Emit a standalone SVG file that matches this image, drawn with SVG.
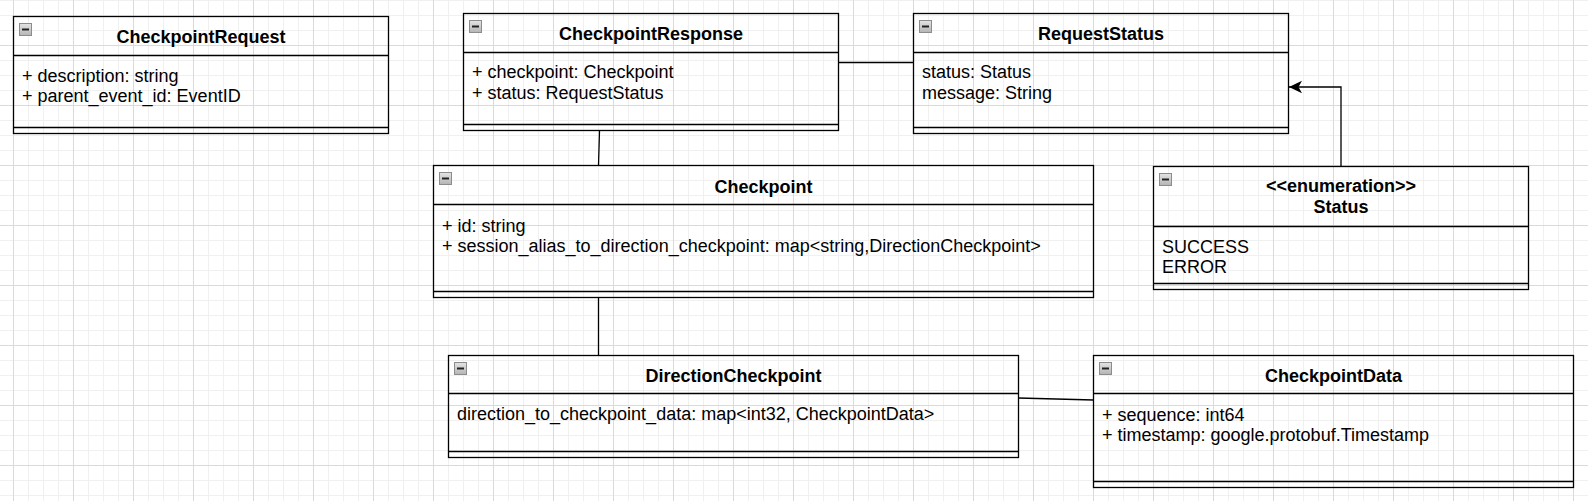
<svg xmlns="http://www.w3.org/2000/svg" xmlns:xlink="http://www.w3.org/1999/xlink" width="1588" height="501" viewBox="0 0 1588 501">
<style>
.box{fill:none;stroke:#000;stroke-width:1.3}
.sep{stroke:#000;stroke-width:1.3}
.title{font-family:"Liberation Sans",Arial,sans-serif;font-size:18px;font-weight:bold;text-anchor:middle;fill:#000}
.attr{font-family:"Liberation Sans",Arial,sans-serif;font-size:18px;fill:#000}
.conn{fill:none;stroke:#000;stroke-width:1.3}
</style>
<defs>
<pattern id="grid" patternUnits="userSpaceOnUse" x="13" y="0" width="60" height="60">
<path d="M15.5 0V60M30.5 0V60M45.5 0V60M0 0.5H60M0 15.5H60M0 30.5H60" stroke="#f0f0f0" stroke-width="1" fill="none"/>
<path d="M0.5 0V60M0 45.5H60" stroke="#dadada" stroke-width="1" fill="none"/>
</pattern>
<linearGradient id="mg" x1="0" y1="0" x2="0" y2="1">
<stop offset="0" stop-color="#e4e4e4"/>
<stop offset="1" stop-color="#b4b4b4"/>
</linearGradient>
<g id="minus">
<rect x="0.5" y="0.5" width="12" height="12" fill="url(#mg)" stroke="#8c8c8c"/>
<rect x="3" y="5.5" width="7" height="2" fill="#222"/>
</g>
<marker id="arr" markerWidth="14" markerHeight="14" refX="13" refY="7" orient="auto" markerUnits="userSpaceOnUse">
<path d="M13,7 L0,0.8 L3.5,7 L0,13.2 Z" fill="#000"/>
</marker>
</defs>
<rect width="1588" height="501" fill="#fff"/>
<rect width="1588" height="501" fill="url(#grid)"/>

<g id="connectors">
<path class="conn" d="M838.5 62.5H913.5"/>
<path class="conn" d="M599.5 130.5L598.5 165.5"/>
<path class="conn" d="M598.5 297.5V355.5"/>
<path class="conn" d="M1018.5 398L1093.5 400"/>
<path class="conn" d="M1341 166.5V87H1289" marker-end="url(#arr)"/>
</g>

<g id="CheckpointRequest">
<rect class="box" x="13.5" y="16.5" width="375" height="117"/>
<path class="sep" d="M13.5 55.5H388.5M13.5 127.5H388.5"/>
<use xlink:href="#minus" x="19" y="23"/>
<text class="title" x="201" y="42.5">CheckpointRequest</text>
<text class="attr" x="22" y="82">+ description: string</text>
<text class="attr" x="22" y="102">+ parent_event_id: EventID</text>
</g>

<g id="CheckpointResponse">
<rect class="box" x="463.5" y="13.5" width="375" height="117"/>
<path class="sep" d="M463.5 52.5H838.5M463.5 124.5H838.5"/>
<use xlink:href="#minus" x="469" y="20"/>
<text class="title" x="651" y="40">CheckpointResponse</text>
<text class="attr" x="472" y="78">+ checkpoint: Checkpoint</text>
<text class="attr" x="472" y="99">+ status: RequestStatus</text>
</g>

<g id="RequestStatus">
<rect class="box" x="913.5" y="13.5" width="375" height="120"/>
<path class="sep" d="M913.5 52.5H1288.5M913.5 127.5H1288.5"/>
<use xlink:href="#minus" x="919" y="20"/>
<text class="title" x="1101" y="40">RequestStatus</text>
<text class="attr" x="922" y="78">status: Status</text>
<text class="attr" x="922" y="99">message: String</text>
</g>

<g id="Checkpoint">
<rect class="box" x="433.5" y="165.5" width="660" height="132"/>
<path class="sep" d="M433.5 204.5H1093.5M433.5 291.5H1093.5"/>
<use xlink:href="#minus" x="439" y="172"/>
<text class="title" x="763.5" y="193">Checkpoint</text>
<text class="attr" x="442" y="232">+ id: string</text>
<text class="attr" x="442" y="252">+ session_alias_to_direction_checkpoint: map&lt;string,DirectionCheckpoint&gt;</text>
</g>

<g id="Status">
<rect class="box" x="1153.5" y="166.5" width="375" height="123"/>
<path class="sep" d="M1153.5 226.5H1528.5M1153.5 283.5H1528.5"/>
<use xlink:href="#minus" x="1159" y="173"/>
<text class="title" x="1341" y="192">&lt;&lt;enumeration&gt;&gt;</text>
<text class="title" x="1341" y="213">Status</text>
<text class="attr" x="1162" y="253">SUCCESS</text>
<text class="attr" x="1162" y="273">ERROR</text>
</g>

<g id="DirectionCheckpoint">
<rect class="box" x="448.5" y="355.5" width="570" height="102"/>
<path class="sep" d="M448.5 393.5H1018.5M448.5 451.5H1018.5"/>
<use xlink:href="#minus" x="454" y="362"/>
<text class="title" x="733.5" y="382">DirectionCheckpoint</text>
<text class="attr" x="457" y="420">direction_to_checkpoint_data: map&lt;int32, CheckpointData&gt;</text>
</g>

<g id="CheckpointData">
<rect class="box" x="1093.5" y="355.5" width="480" height="132"/>
<path class="sep" d="M1093.5 393.5H1573.5M1093.5 481.5H1573.5"/>
<use xlink:href="#minus" x="1099" y="362"/>
<text class="title" x="1333.5" y="381.5">CheckpointData</text>
<text class="attr" x="1102" y="421">+ sequence: int64</text>
<text class="attr" x="1102" y="441">+ timestamp: google.protobuf.Timestamp</text>
</g>
</svg>
